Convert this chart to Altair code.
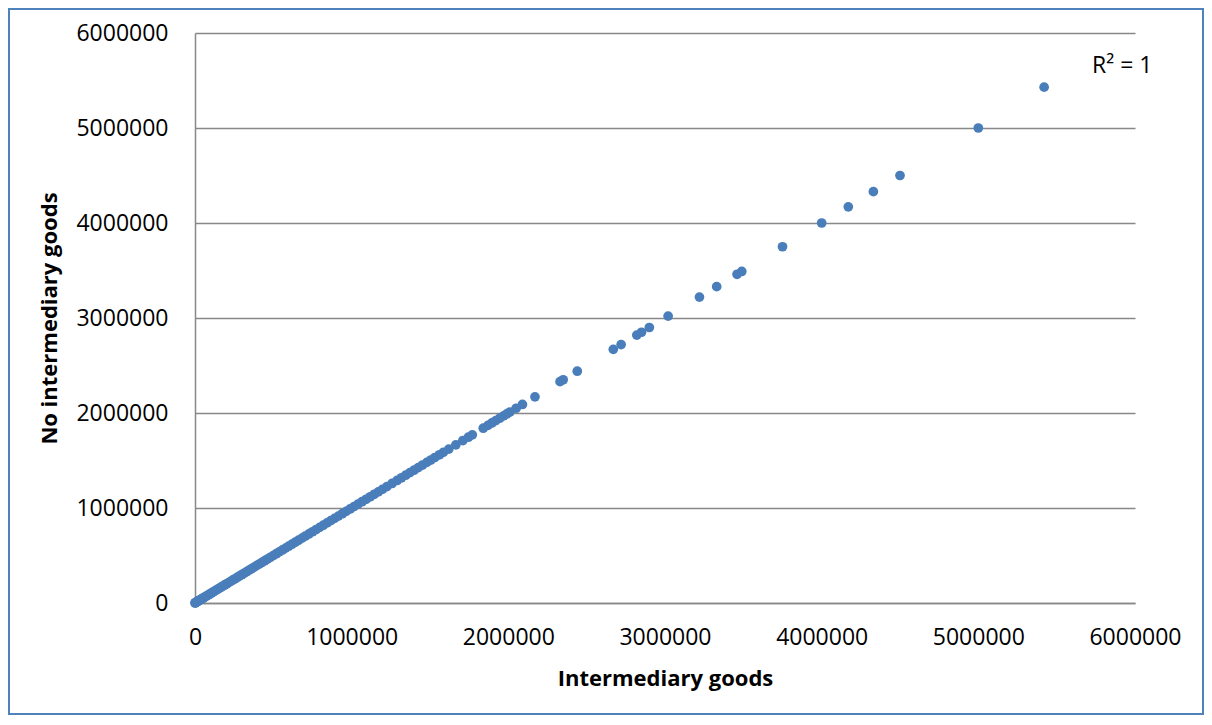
import altair as alt
import pandas as pd

# Values in thousands: (intermediary goods, no intermediary goods)
dense_k = [0, 2, 5, 8, 12, 16, 20, 25, 30, 36, 42, 48, 55, 62, 70, 78, 86, 95,
           104, 113, 123, 133, 144, 155, 166, 178, 190, 202, 215, 228, 241, 255,
           269, 283, 298, 313, 328, 344, 360, 376, 393, 410, 427, 445, 463, 481,
           500, 519, 538, 558, 578, 598, 619, 640, 661, 683, 705, 727, 750, 773,
           796, 819, 843, 867, 891, 915, 940, 965, 990, 1015, 1040, 1066, 1092,
           1118, 1144, 1170, 1196, 1225, 1258, 1290, 1318, 1345, 1372, 1398,
           1425, 1452, 1480, 1505, 1530, 1560, 1585, 1620, 1665, 1710, 1745,
           1770, 1840, 1870, 1895, 1920, 1945, 1970, 1990, 2010, 2050, 2090, 2170]
sparse_x_k = [2330, 2350, 2440, 2670, 2720, 2820, 2850, 2900, 3020, 3220, 3330,
              3460, 3490, 3750, 4000, 4170, 4330, 4500, 5000, 5420]
sparse_y_k = [2330, 2350, 2440, 2670, 2720, 2820, 2850, 2900, 3020, 3220, 3330,
              3460, 3490, 3750, 4000, 4170, 4330, 4500, 5000, 5430]

x_vals = [v * 1000 for v in dense_k + sparse_x_k]
y_vals = [v * 1000 for v in dense_k + sparse_y_k]

x_ticks = [0, 1000000, 2000000, 3000000, 4000000, 5000000, 6000000]
y_ticks = [0, 1000000, 2000000, 3000000, 4000000, 5000000, 6000000]

df = pd.DataFrame({"x": x_vals, "y": y_vals})

W, H = 940, 570
PL, PT, PR, PB = 187, 25, 69, 112
FONT = "Open Sans"

points = alt.Chart(df).mark_circle(size=95, opacity=1, color="#4A7EBB").encode(
    x=alt.X("x:Q", title="Intermediary goods",
            scale=alt.Scale(domain=[0, 6000000], nice=False, zero=True),
            axis=alt.Axis(values=x_ticks, format="d", grid=False, ticks=False,
                          domain=True, domainColor="#888888", domainWidth=1.5,
                          labelPadding=23, labelFontSize=23, labelFont=FONT,
                          labelColor="#000000", labelFlush=False,
                          titleFont=FONT, titleFontSize=22, titleFontWeight="bold",
                          titleColor="#000000", titlePadding=19)),
    y=alt.Y("y:Q", title="No intermediary goods",
            scale=alt.Scale(domain=[0, 6000000], nice=False, zero=True),
            axis=alt.Axis(values=y_ticks, format="d", grid=True, gridColor="#888888",
                          gridWidth=1.5, ticks=False, domain=True,
                          domainColor="#888888", domainWidth=1.5,
                          labelPadding=27, labelFontSize=23, labelFont=FONT,
                          labelColor="#000000", labelFlush=False,
                          titleFont=FONT, titleFontSize=22, titleFontWeight="bold",
                          titleColor="#000000", titlePadding=14)),
)

r2 = alt.Chart(pd.DataFrame({"t": ["R² = 1"]})).mark_text(
    align="left", baseline="middle", font=FONT, fontSize=23, color="#000000"
).encode(text="t:N", x=alt.value(897), y=alt.value(33))

border = alt.Chart(pd.DataFrame({"a": [0]})).mark_rect(
    fill=None, stroke="#4F81BD", strokeWidth=2, clip=False
).encode(x=alt.value(-PL + 1), x2=alt.value(W + PR - 1),
         y=alt.value(-PT + 1), y2=alt.value(H + PB - 1))

chart = alt.layer(border, points, r2).properties(
    width=W, height=H,
    autosize=alt.AutoSizeParams(type="none"),
    padding={"left": PL, "top": PT, "right": PR, "bottom": PB},
    background="white",
).configure_view(stroke=None)

chart.save("out.html", embed_options={"renderer": "svg", "actions": False})
